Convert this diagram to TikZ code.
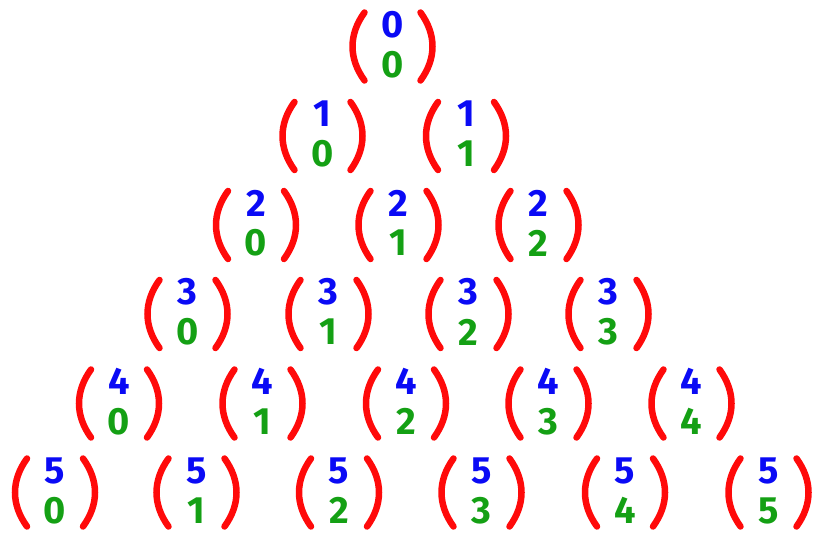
\documentclass[tikz,border=0pt]{standalone}
\usepackage{fontspec}
\setmainfont{Fira Sans}
\definecolor{pred}{RGB}{255,10,10}
\definecolor{nblue}{RGB}{10,10,245}
\definecolor{ngreen}{RGB}{20,160,20}
\begin{document}
\begin{tikzpicture}[x=1pt,y=-1pt,
  paren/.style={draw=pred,line width=6.5pt,line cap=round},
  numtxt/.style={font=\fontsize{38}{38}\selectfont\bfseries,inner sep=0pt},
  topnum/.style={numtxt,text=nblue},
  botnum/.style={numtxt,text=ngreen}]
\useasboundingbox (0,0) rectangle (813,534);
\foreach \r/\y/\xs in {0/46.5/{392.5},1/136/{322.5,466},2/225/{256,398.5,538.5},3/314/{187.5,328.5,468.5,608.5},4/403.5/{119,262.5,406,548.5,691.5},5/492.5/{55,196.5,339,481.5,625,768.5}}{
  \foreach \x [count=\k from 0] in \xs {
    \node[topnum] (t-\r-\k) at (\x,\y-22) {\r};
    \node[botnum] (b-\r-\k) at (\x,\y+18) {\k};
    \path[paren] (\x-28,\y+34) .. controls (\x-44,\y+12) and (\x-44,\y-12) .. (\x-28,\y-34);
    \path[paren] (\x+28,\y+34) .. controls (\x+44,\y+12) and (\x+44,\y-12) .. (\x+28,\y-34);
  }
}
\end{tikzpicture}
\end{document}
